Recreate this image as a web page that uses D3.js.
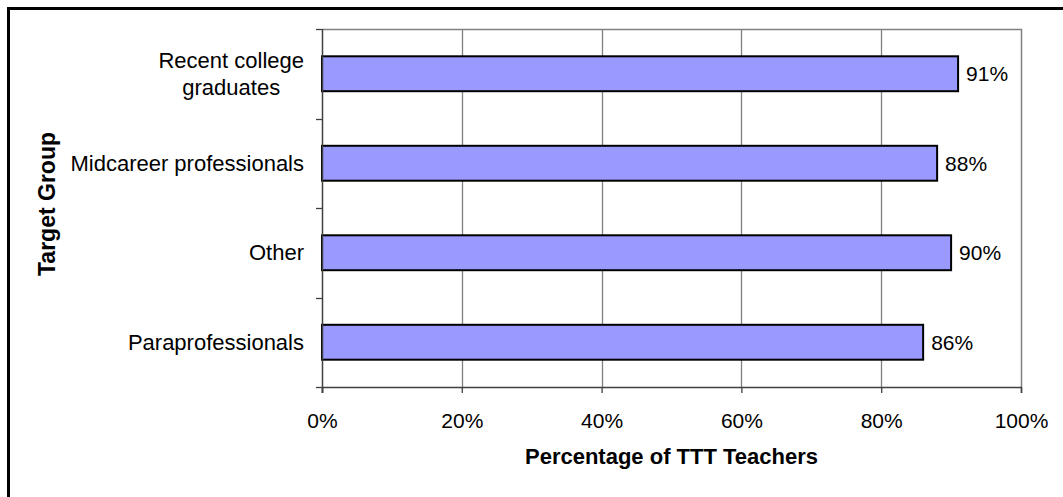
<!DOCTYPE html>
<html>
<head>
<meta charset="utf-8">
<script src="https://cdn.jsdelivr.net/npm/d3@7"></script>
<style>
  body { margin:0; background:#fff; }
  text { font-family:"Liberation Sans", Arial, sans-serif; fill:#000; }
</style>
</head>
<body>
<div id="chart"></div>
<script>
// categories top to bottom
var groups = [["Recent college","graduates"],["Midcareer professionals"],["Other"],["Paraprofessionals"]];
var values = [91, 88, 90, 86];
var xTicks = [0, 20, 40, 60, 80, 100];

var W = 1063, H = 497;
var margin = {top:29, right:42, bottom:110, left:322};
var width = W - margin.left - margin.right,
    height = H - margin.top - margin.bottom;

var svg = d3.select("#chart").append("svg")
  .attr("width", W).attr("height", H);

// outer frame (runs off the picture on the right and bottom)
svg.append("rect")
  .attr("x", 8.5).attr("y", 8.5)
  .attr("width", W).attr("height", H)
  .attr("fill", "none").attr("stroke", "#000").attr("stroke-width", 3);

var g = svg.append("g").attr("transform", "translate(" + margin.left + "," + margin.top + ")");

var x = d3.scaleLinear().domain([0, 100]).range([0, width]);
var y = d3.scaleBand().domain(d3.range(groups.length)).range([0, height]).paddingInner(0.61).paddingOuter(0.305);

// gridlines
g.selectAll(".grid").data(xTicks.slice(1, -1)).join("line")
  .attr("x1", d => Math.round(x(d)) + 0.5).attr("x2", d => Math.round(x(d)) + 0.5)
  .attr("y1", 0).attr("y2", height)
  .attr("stroke", "#808080").attr("stroke-width", 1.3);

// plot frame top and right
g.append("path")
  .attr("d", "M0,0.5H" + (width + 0.5) + "V" + height)
  .attr("fill", "none").attr("stroke", "#808080").attr("stroke-width", 1.5);

// bars
g.selectAll(".bar").data(values).join("rect")
  .attr("class", "bar")
  .attr("x", 0)
  .attr("y", (d, i) => y(i))
  .attr("width", d => x(d))
  .attr("height", y.bandwidth())
  .attr("fill", "#9999FF").attr("stroke", "#000").attr("stroke-width", 2);

// value labels
g.selectAll(".val").data(values).join("text")
  .attr("x", d => x(d) + 8)
  .attr("y", (d, i) => y(i) + y.bandwidth() / 2)
  .attr("dy", "0.35em")
  .style("font-size", "21px")
  .text(d => d + "%");

// x axis
var xAxis = d3.axisBottom(x).tickValues(xTicks).tickSize(6).tickFormat(d => d + "%");
var xg = g.append("g").attr("transform", "translate(0," + height + ")").call(xAxis);
xg.select(".domain").attr("stroke", "#404040").attr("stroke-width", 1.5);
xg.selectAll(".tick line").attr("stroke", "#404040").attr("stroke-width", 1.3);
xg.selectAll(".tick text").attr("y", 26).attr("dy", "0.71em")
  .style("font-size", "21px").style("font-family", "Liberation Sans, Arial, sans-serif").attr("fill", "#000");

// y axis: ticks at band boundaries
var step = height / groups.length;
var yb = d3.range(groups.length + 1).map(i => i * step);
g.append("line").attr("x1", 0.5).attr("x2", 0.5).attr("y1", 0).attr("y2", height + 6)
  .attr("stroke", "#404040").attr("stroke-width", 1.5);
g.selectAll(".ytick").data(yb).join("line")
  .attr("x1", -6).attr("x2", 0)
  .attr("y1", d => Math.round(d) + 0.5).attr("y2", d => Math.round(d) + 0.5)
  .attr("stroke", "#404040").attr("stroke-width", 1.3);

// category labels, wrapped lines centred on each other, block right-aligned
var labelRight = -18, lineH = 27;
groups.forEach(function(lines, i) {
  var t = g.append("text").style("font-size", "22px").attr("text-anchor", "middle");
  lines.forEach(function(s, j) {
    t.append("tspan").attr("x", 0)
      .attr("y", y(i) + y.bandwidth() / 2 + (j - (lines.length - 1) / 2) * lineH)
      .attr("dy", "0.35em").text(s);
  });
  var maxW = d3.max(t.selectAll("tspan").nodes(), n => n.getComputedTextLength());
  t.selectAll("tspan").attr("x", labelRight - maxW / 2);
});

// axis titles
g.append("text")
  .attr("x", width / 2).attr("y", height + 77)
  .attr("text-anchor", "middle")
  .style("font-size", "22px").style("font-weight", "bold")
  .text("Percentage of TTT Teachers");

svg.append("text")
  .attr("transform", "translate(55," + (margin.top + height / 2 - 4) + ") rotate(-90)")
  .attr("text-anchor", "middle")
  .style("font-size", "23px").style("font-weight", "bold")
  .text("Target Group");
</script>
</body>
</html>
